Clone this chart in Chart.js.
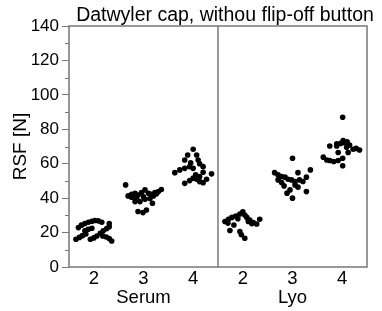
<!DOCTYPE html>
<html>
<head>
<meta charset="utf-8">
<script src="https://cdn.jsdelivr.net/npm/chart.js@4"></script>
<style>
  html, body { margin: 0; padding: 0; background: #fff; }
  #wrap { width: 382px; height: 311px; }
</style>
</head>
<body>
<div id="wrap"><canvas id="myChart" width="382" height="311"></canvas></div>
<script>
  // tick labels under the x axis
  const DOSE_LABELS = ["2", "3", "4", "2", "3", "4"];
  const GROUP_LABELS = ["Serum", "Lyo"];
  const TITLE = "Datwyler cap, withou flip-off button";

  // points: [jittered x position (1..6 = category), RSF in N]
  const serum2 = [
    [0.69, 22.9], [0.75, 24.3], [0.82, 25.2], [0.89, 26.0], [0.96, 26.6], [1.02, 27.0], [1.09, 26.8], [1.16, 26.0], [1.31, 25.2],
    [0.82, 21.1], [0.89, 21.9], [0.96, 22.5],
    [0.64, 16.1], [0.71, 17.2], [0.77, 18.2], [0.84, 19.2],
    [0.93, 16.1], [1.00, 16.9], [1.06, 18.0], [1.13, 19.6], [1.19, 21.0], [1.26, 22.3], [1.31, 23.4],
    [1.18, 18.0], [1.25, 17.4], [1.31, 16.5], [1.36, 15.1]
  ];
  const serum3 = [
    [1.64, 47.7],
    [1.69, 41.3], [1.76, 42.3], [1.83, 42.8], [1.89, 41.8], [1.96, 43.2], [2.03, 44.8], [2.10, 42.8], [2.16, 42.3], [2.23, 43.2], [2.30, 43.8], [2.36, 45.0],
    [1.83, 38.0], [1.93, 38.0], [2.03, 39.3], [2.13, 39.8], [2.20, 41.3], [2.26, 42.5],
    [1.89, 32.2], [1.99, 31.6], [2.06, 33.1],
    [1.76, 40.5], [1.86, 40.0], [2.00, 40.8], [2.18, 37.0]
  ];
  const serum4 = [
    [3.00, 68.4], [2.89, 65.1], [3.07, 65.1], [2.83, 62.2], [3.10, 62.2], [2.95, 60.5], [3.13, 60.0],
    [2.63, 54.8], [2.73, 56.4], [2.83, 57.3], [2.93, 58.3], [3.00, 57.3], [3.20, 58.3], [3.20, 55.0],
    [2.83, 48.6], [2.93, 50.2], [3.00, 51.6], [3.07, 51.0], [3.13, 49.6], [3.20, 49.0], [3.27, 51.0], [3.37, 54.1], [3.13, 52.5], [3.05, 53.5]
  ];
  const lyo2 = [
    [3.64, 26.4], [3.71, 27.7], [3.78, 28.8], [3.86, 29.6], [3.94, 30.8], [4.00, 32.1], [4.04, 30.2], [4.08, 28.8], [4.14, 27.3], [4.21, 25.8], [4.28, 25.0], [4.34, 27.7],
    [3.74, 21.2], [3.94, 20.6], [3.97, 18.7], [4.04, 16.7], [3.82, 24.4], [4.11, 26.4], [4.18, 25.2], [3.70, 25.5], [3.90, 28.0]
  ];
  const lyo3 = [
    [5.00, 63.2],
    [4.64, 54.8], [4.71, 53.5], [4.78, 52.5], [4.85, 52.2], [4.91, 51.0], [4.98, 50.6], [5.05, 49.7], [5.11, 54.8], [5.14, 50.6], [5.21, 49.7], [5.28, 52.2], [5.36, 56.4],
    [4.71, 50.6], [4.78, 49.1], [4.83, 47.1], [4.95, 44.8], [4.89, 42.9], [5.00, 40.0], [5.11, 46.4], [5.28, 43.8], [5.05, 47.7]
  ];
  const lyo4 = [
    [6.01, 87.0],
    [5.75, 70.3], [5.89, 71.5], [5.97, 71.8], [6.02, 73.4], [6.05, 72.2], [6.10, 72.8], [6.15, 70.9], [5.92, 66.5], [6.12, 66.5], [6.22, 68.4], [6.28, 68.9], [6.35, 68.0], [5.89, 70.3],
    [5.62, 63.8], [5.69, 62.2], [5.75, 61.9], [5.83, 61.3], [5.92, 61.9], [6.01, 63.2], [6.01, 58.8], [6.09, 69.5]
  ];

  const GROUPS = [serum2, serum3, serum4, lyo2, lyo3, lyo4];
  const AXIS_COLOR = "#777";
  const FONT = "'Liberation Sans', Arial, sans-serif";

  // box around the plot, short minor ticks on y, and the title
  const framePlugin = {
    id: "frame",
    afterDraw(chart) {
      const { ctx, chartArea: a, scales } = chart;
      ctx.save();
      ctx.strokeStyle = AXIS_COLOR;
      ctx.lineWidth = 1.5;
      ctx.strokeRect(a.left, a.top, a.right - a.left, a.bottom - a.top);
      // minor ticks
      ctx.lineWidth = 1;
      for (let v = 10; v < 140; v += 20) {
        const y = Math.round(scales.y.getPixelForValue(v)) + 0.5;
        ctx.beginPath();
        ctx.moveTo(a.left - 4, y);
        ctx.lineTo(a.left, y);
        ctx.stroke();
      }
      // title
      ctx.fillStyle = "#000";
      ctx.font = "19.5px " + FONT;
      ctx.textAlign = "center";
      ctx.textBaseline = "alphabetic";
      ctx.fillText(TITLE, 225, 21);
      ctx.restore();
    }
  };

  const datasets = GROUPS.map((g) => ({
    type: "scatter",
    data: g.map(([x, y]) => ({ x, y })),
    backgroundColor: "#000",
    borderWidth: 0,
    pointRadius: 2.8,
    pointHoverRadius: 2.8,
  }));
  // divider between Serum and Lyo
  datasets.push({
    type: "line",
    data: [{ x: 3.5, y: 0 }, { x: 3.5, y: 140 }],
    borderColor: AXIS_COLOR,
    borderWidth: 1.5,
    pointRadius: 0,
  });

  const ctx = document.getElementById("myChart");
  new Chart(ctx, {
    type: "scatter",
    data: { datasets },
    options: {
      responsive: false,
      animation: false,
      devicePixelRatio: 1,
      layout: { padding: { top: 26, right: 15, bottom: 0, left: 0 } },
      plugins: {
        legend: { display: false },
        title: { display: false },
        tooltip: { enabled: false },
      },
      scales: {
        x: {
          type: "linear",
          min: 0.5,
          max: 6.5,
          afterBuildTicks: (s) => {
            s.ticks = DOSE_LABELS.map((_, i) => ({ value: i + 1 }));
          },
          afterFit: (s) => { s.height = 44; },
          ticks: {
            autoSkip: false,
            maxRotation: 0,
            padding: 3,
            color: "#000",
            font: { family: FONT, size: 18.5, lineHeight: 1.0 },
            callback: (v) => {
              const i = Math.round(v) - 1;
              const second = i % 3 === 1 ? GROUP_LABELS[Math.floor(i / 3)] : "";
              return [DOSE_LABELS[i], second];
            },
          },
          grid: { display: false, drawTicks: false },
          border: { display: false },
        },
        y: {
          min: 0,
          max: 140,
          afterFit: (s) => { s.width = 69; },
          ticks: {
            stepSize: 20,
            padding: 3,
            color: "#000",
            font: { family: FONT, size: 17 },
          },
          grid: {
            drawOnChartArea: false,
            tickLength: 7,
            color: AXIS_COLOR,
            tickWidth: 1,
          },
          border: { display: false },
          title: {
            display: true,
            text: "RSF [N]",
            color: "#000",
            font: { family: FONT, size: 19 },
            padding: { top: 9, bottom: 0 },
          },
        },
      },
    },
    plugins: [framePlugin],
  });
</script>
</body>
</html>
